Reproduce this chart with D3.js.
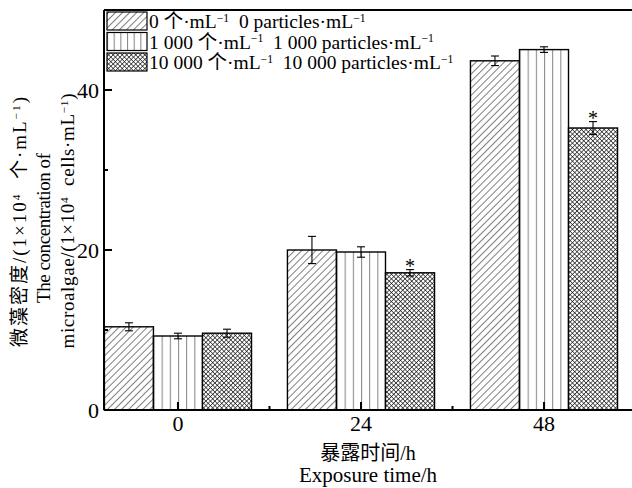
<!DOCTYPE html>
<html>
  <head>
    <meta charset="utf-8">
    <script src="https://cdn.jsdelivr.net/npm/d3@7"></script>
    <style>
      body { margin: 0; background: #fff; }
      svg text { font-family: "Liberation Serif", "Noto Sans CJK SC", serif; fill: #000; white-space: pre; }
    </style>
  </head>
<body>
  <svg id="chart" width="632" height="488"></svg>
  <script type="text/javascript">
    "use strict";
    // exposure times (h) and the three treatment series
    var times = [0, 24, 48];
    var mean0 = [10.4, 20.0, 43.65];
    var err0 = [0.5, 1.7, 0.6];
    var mean1 = [9.25, 19.75, 45.05];
    var err1 = [0.35, 0.65, 0.35];
    var mean2 = [9.6, 17.15, 35.25];
    var err2 = [0.5, 0.4, 0.8];
    var signif2 = [false, true, true];
    var yTicks = [0, 20, 40];
    var yMinor = [10, 30];
    var xMinor = [12, 36];

    // legend labels as [text, superscript?] pieces
    var legendLabels = [
      [["0 个·mL", false], ["−1", true], ["  0 particles·mL", false], ["−1", true]],
      [["1 000 个·mL", false], ["−1", true], ["  1 000 particles·mL", false], ["−1", true]],
      [["10 000 个·mL", false], ["−1", true], ["  10 000 particles·mL", false], ["−1", true]]
    ];
    var yTitle = [
      [["微藻密度/(1×10", false], ["4", true], ["  个·mL", false], ["−1", true], [")", false]],
      [["The concentration of", false]],
      [["microalgae/(1×10", false], ["4", true], ["  cells·mL", false], ["−1", true], [")", false]]
    ];

    (function() {
      var series = [
        {mean: mean0, err: err0, fill: "url(#diag)"},
        {mean: mean1, err: err1, fill: "url(#vert)"},
        {mean: mean2, err: err2, fill: "url(#cross)", sig: signif2}
      ];

      var svg = d3.select("#chart");
      var plotL = 104, plotB = 410, plotT = 10;

      var x = d3.scaleLinear().domain([-9.7, 60]).range([plotL, 635.5]);
      var y = d3.scaleLinear().domain([0, 50]).range([plotB, plotT]);
      var bw = x(6.43) - x(0);

      // fill patterns
      var defs = svg.append("defs");
      var pd = defs.append("pattern").attr("id", "diag").attr("patternUnits", "userSpaceOnUse")
        .attr("width", 5).attr("height", 5).attr("patternTransform", "rotate(45)");
      pd.append("rect").attr("width", 5).attr("height", 5).attr("fill", "#fff");
      pd.append("line").attr("x1", 0).attr("y1", 0).attr("x2", 0).attr("y2", 5)
        .attr("stroke", "#000").attr("stroke-width", 1);

      var pv = defs.append("pattern").attr("id", "vert").attr("patternUnits", "objectBoundingBox")
        .attr("width", 1 / 6).attr("height", 1).attr("patternContentUnits", "userSpaceOnUse");
      pv.append("rect").attr("width", 20).attr("height", 500).attr("fill", "#fff");
      pv.append("line").attr("x1", 0.5).attr("y1", 0).attr("x2", 0.5).attr("y2", 500)
        .attr("stroke", "#888").attr("stroke-width", 1.1);

      var pc = defs.append("pattern").attr("id", "cross").attr("patternUnits", "userSpaceOnUse")
        .attr("width", 3.2).attr("height", 3.2).attr("patternTransform", "rotate(45)");
      pc.append("rect").attr("width", 3.2).attr("height", 3.2).attr("fill", "#fff");
      pc.append("line").attr("x1", 0).attr("y1", 0).attr("x2", 3.2).attr("y2", 0)
        .attr("stroke", "#111").attr("stroke-width", 1.3);
      pc.append("line").attr("x1", 0).attr("y1", 0).attr("x2", 0).attr("y2", 3.2)
        .attr("stroke", "#111").attr("stroke-width", 1.3);

      function rich(sel, parts) {
        var prevSup = false;
        parts.forEach(function(p) {
          var t = sel.append("tspan").text(p[0]);
          if (p[1]) {
            t.attr("font-size", "0.6em").attr("dy", "-0.55em");
          } else if (prevSup) {
            t.attr("dy", "0.33em");
          }
          prevSup = p[1];
        });
      }

      // bars
      series.forEach(function(s, i) {
        var g = svg.append("g");
        g.selectAll("rect").data(times).enter().append("rect")
          .attr("x", function(d) { return x(d) + (i - 1.5) * bw; })
          .attr("y", function(d, j) { return y(s.mean[j]); })
          .attr("width", bw)
          .attr("height", function(d, j) { return y(0) - y(s.mean[j]); })
          .attr("fill", s.fill)
          .attr("stroke", "#000").attr("stroke-width", 1.4);
      });

      // error bars
      series.forEach(function(s, i) {
        var g = svg.append("g").attr("stroke", "#000").attr("stroke-width", 1.1);
        times.forEach(function(d, j) {
          var cx = x(d) + (i - 1) * bw;
          var hi = y(s.mean[j] + s.err[j]), lo = y(s.mean[j] - s.err[j]);
          g.append("line").attr("x1", cx).attr("x2", cx).attr("y1", hi).attr("y2", lo);
          g.append("line").attr("x1", cx - 4).attr("x2", cx + 4).attr("y1", hi).attr("y2", hi);
          g.append("line").attr("x1", cx - 4).attr("x2", cx + 4).attr("y1", lo).attr("y2", lo);
          if (s.sig && s.sig[j]) {
            svg.append("text").attr("x", cx).attr("y", hi + 3)
              .attr("text-anchor", "middle").attr("font-size", 20).text("*");
          }
        });
      });

      // axes and frame
      var ax = svg.append("g").attr("stroke", "#000");
      ax.append("line").attr("x1", plotL).attr("x2", 632).attr("y1", plotB).attr("y2", plotB).attr("stroke-width", 2);
      ax.append("line").attr("x1", plotL).attr("x2", 632).attr("y1", plotT).attr("y2", plotT).attr("stroke-width", 2);
      ax.append("line").attr("x1", plotL).attr("x2", plotL).attr("y1", plotT).attr("y2", plotB).attr("stroke-width", 2);
      yTicks.forEach(function(v) {
        ax.append("line").attr("x1", plotL).attr("x2", plotL + 8).attr("y1", y(v)).attr("y2", y(v)).attr("stroke-width", 2);
      });
      yMinor.forEach(function(v) {
        ax.append("line").attr("x1", plotL).attr("x2", plotL + 4).attr("y1", y(v)).attr("y2", y(v)).attr("stroke-width", 2);
      });
      times.forEach(function(v) {
        ax.append("line").attr("x1", x(v)).attr("x2", x(v)).attr("y1", plotB).attr("y2", plotB - 8).attr("stroke-width", 2);
      });
      xMinor.forEach(function(v) {
        ax.append("line").attr("x1", x(v)).attr("x2", x(v)).attr("y1", plotB).attr("y2", plotB - 4).attr("stroke-width", 2);
      });

      svg.selectAll(".ylab").data(yTicks).enter().append("text")
        .attr("x", plotL - 5).attr("y", function(d) { return y(d); }).attr("dy", "0.35em")
        .attr("text-anchor", "end").attr("font-size", 22).text(function(d) { return d; });
      svg.selectAll(".xlab").data(times).enter().append("text")
        .attr("x", function(d) { return x(d); }).attr("y", 431)
        .attr("text-anchor", "middle").attr("font-size", 22).text(function(d) { return d; });

      // axis titles
      svg.append("text").attr("x", 368).attr("y", 460).attr("text-anchor", "middle")
        .attr("font-size", 20).text("暴露时间/h");
      svg.append("text").attr("x", 368).attr("y", 482).attr("text-anchor", "middle")
        .attr("font-size", 21).text("Exposure time/h");

      var ytX = [26, 50, 74];
      var ytY = [222, 228, 221];
      var ytLen = [250, 150, 255];
      yTitle.forEach(function(parts, i) {
        var t = svg.append("text")
          .attr("transform", "translate(" + ytX[i] + "," + ytY[i] + ") rotate(-90)")
          .attr("text-anchor", "middle").attr("font-size", 19)
          .attr("textLength", ytLen[i]).attr("lengthAdjust", "spacing");
        rich(t, parts);
      });

      // legend
      var lg = svg.append("g");
      legendLabels.forEach(function(parts, i) {
        var yy = 12 + i * 20.5;
        lg.append("rect").attr("x", 107).attr("y", yy).attr("width", 40).attr("height", 18)
          .attr("fill", series[i].fill).attr("stroke", "#000").attr("stroke-width", 1.2);
        var t = lg.append("text").attr("x", 149).attr("y", yy + 16).attr("font-size", 19.5);
        rich(t, parts);
      });
    })();
  </script>
</body>
</html>
